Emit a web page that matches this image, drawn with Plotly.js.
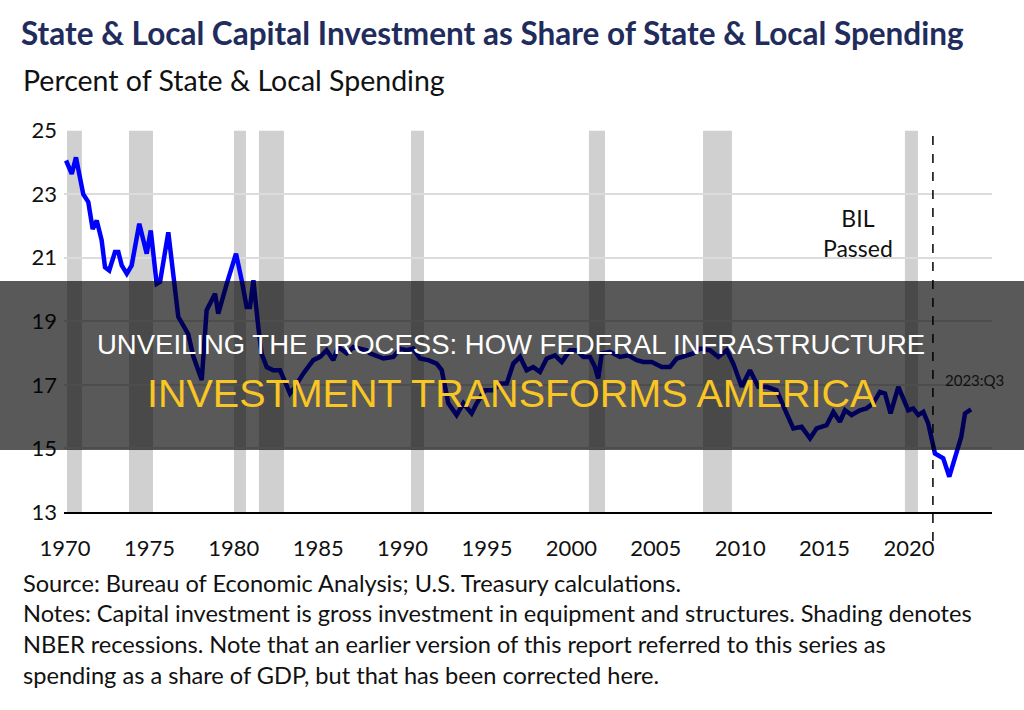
<!DOCTYPE html>
<html>
<head>
<meta charset="utf-8">
<script src="https://cdn.plot.ly/plotly-3.0.1.min.js"></script>
<style>
  html, body { margin: 0; padding: 0; background: #fff; }
  #chart { width: 1024px; height: 710px; }
</style>
</head>
<body>
<div id="chart"></div>
<script>
// ---- Data ----
const years = [1970.06,1970.40,1970.65,1971.08,1971.38,1971.64,1971.88,1972.17,1972.37,1972.62,1972.96,1973.16,1973.36,1973.66,1973.95,1974.40,1974.84,1975.08,1975.43,1975.63,1976.12,1976.42,1976.71,1977.30,1977.60,1978.10,1978.39,1978.89,1979.08,1979.58,1980.13,1980.47,1980.76,1980.96,1981.16,1981.45,1981.65,1981.95,1982.34,1982.74,1982.93,1983.33,1983.63,1984.12,1984.71,1985.11,1985.50,1985.89,1986.19,1986.69,1987.08,1987.87,
  1988.07,1988.86,1989.45,1989.85,1990.24,1990.63,1991.03,1991.52,1992.02,1992.32,1992.71,1993.20,1993.60,1994.09,1994.39,1994.88,1995.37,1995.77,1996.17,1996.56,1996.96,1997.35,1997.74,1998.14,1998.54,1999.03,1999.43,1999.92,2000.31,2000.71,2001.10,2001.40,2001.59,2001.80,2002.29,2002.88,2003.37,2003.87,2004.26,2004.76,2005.35,2005.84,2006.24,2006.63,
  2007.22,2007.62,2008.21,2008.70,2009.20,2009.59,2010.09,2010.58,2011.07,2011.57,2012.16,2012.75,2013.15,2013.64,2014.14,2014.53,2015.12,2015.52,2015.91,2016.21,2016.60,2017.09,2017.49,2017.88,2018.28,2018.58,2018.91,2019.37,2019.76,2019.96,2020.25,2020.55,2020.85,2021.14,2021.54,2022.03,2022.39,2022.82,2023.10,2023.32,2023.68];

const share = [24.06,23.64,24.16,23.0,22.75,21.9,22.17,21.55,20.7,20.6,21.18,21.18,20.76,20.5,20.76,22.07,21.13,21.86,20.18,20.24,21.8,20.5,19.14,18.6,17.9,17.15,19.35,19.87,19.24,20.18,21.13,20.29,19.45,19.45,20.29,18.82,17.98,17.56,17.46,17.46,17.25,16.73,16.94,17.36,17.78,17.88,18.09,17.78,18.19,17.99,18.19,18.09,
  17.99,17.83,17.88,18.14,18.09,18.14,17.83,17.78,17.67,17.46,16.42,16.05,16.42,16.1,16.42,16.83,16.83,17.04,17.04,17.67,17.88,17.46,17.56,17.41,17.83,17.93,17.72,18.09,18.09,17.88,17.88,17.56,17.2,17.99,18.04,17.88,17.93,17.78,17.72,17.72,17.56,17.56,17.83,17.88,
  17.99,18.14,18.09,17.88,18.09,17.67,16.94,17.46,16.94,16.94,16.83,16.10,15.63,15.68,15.32,15.63,15.73,16.15,15.84,16.20,16.05,16.20,16.26,16.42,16.78,16.73,16.10,16.94,16.47,16.20,16.26,16.05,16.15,15.79,14.84,14.69,14.11,14.84,15.37,16.10,16.23];

// NBER recession shading (start, end) as drawn
const recStart = [1970.12, 1973.79, 1980.01, 1981.49, 1990.50, 2001.04, 2007.80, 2019.76];
const recEnd   = [1971.00, 1975.21, 1980.72, 1982.97, 1991.27, 2001.99, 2009.51, 2020.53];

const bilDate = 2021.42;
const xTicks = [1970, 1975, 1980, 1985, 1990, 1995, 2000, 2005, 2010, 2015, 2020];
const yTicks = [13, 15, 17, 19, 21, 23, 25];

const titleText = "State & Local Capital Investment as Share of State & Local Spending";
const subtitleText = "Percent of State & Local Spending";
const noteLines = [
  "Source: Bureau of Economic Analysis; U.S. Treasury calculations.",
  "Notes: Capital investment is gross investment in equipment and structures. Shading denotes",
  "NBER recessions. Note that an earlier version of this report referred to this series as",
  "spending as a share of GDP, but that has been corrected here."
];
const bannerLine1 = "UNVEILING THE PROCESS: HOW FEDERAL INFRASTRUCTURE";
const bannerLine2 = "INVESTMENT TRANSFORMS AMERICA";

// ---- Layout helpers ----
const W = 1024, H = 710;
const M = {l: 64, r: 32, t: 130, b: 198};
const plotW = W - M.l - M.r, plotH = H - M.t - M.b;
const px2paperX = px => (px - M.l) / plotW;
const py2paperY = py => (H - M.b - py) / plotH;

const FONT = "Lato, 'Open Sans', sans-serif";
const BANNER_FONT = "'Liberation Sans', Arial, sans-serif";

const shapes = [];
for (let i = 0; i < recStart.length; i++) {
  shapes.push({
    type: 'rect', xref: 'x', yref: 'y', layer: 'below',
    x0: recStart[i], x1: recEnd[i], y0: yTicks[0], y1: yTicks[yTicks.length - 1],
    fillcolor: '#d0d0d0', line: {width: 0}
  });
}
shapes.push({
  type: 'line', xref: 'x', yref: 'paper', layer: 'above',
  x0: bilDate, x1: bilDate, y0: py2paperY(136), y1: py2paperY(543),
  line: {color: '#000', width: 1.5, dash: 'dash'}
});
// dark banner overlay
shapes.push({
  type: 'rect', xref: 'paper', yref: 'paper', layer: 'above',
  x0: px2paperX(0), x1: px2paperX(W), y0: py2paperY(450), y1: py2paperY(281),
  fillcolor: 'rgba(0,0,0,0.65)', line: {width: 0}
});

const noteY = [583, 613, 644, 675];
const annotations = [
  {xref: 'paper', yref: 'paper', x: px2paperX(21), y: py2paperY(80), xanchor: 'left', yanchor: 'middle',
   text: subtitleText, showarrow: false, font: {family: FONT, size: 28.5, color: '#111'}},
  {xref: 'x', yref: 'y', x: 2016.98, y: 21.77, text: 'BIL<br>Passed', showarrow: false,
   font: {family: FONT, size: 23, color: '#111'}, align: 'center'},
  {xref: 'x', yref: 'y', x: 2023.9, y: 17.15, text: '2023:Q3', showarrow: false,
   font: {family: FONT, size: 15, color: '#111'}},
  {xref: 'paper', yref: 'paper', x: px2paperX(511), y: py2paperY(344), xanchor: 'center', yanchor: 'middle',
   text: bannerLine1, showarrow: false, font: {family: BANNER_FONT, size: 27.5, color: '#ffffff'}},
  {xref: 'paper', yref: 'paper', x: px2paperX(512), y: py2paperY(393), xanchor: 'center', yanchor: 'middle',
   text: bannerLine2, showarrow: false, font: {family: BANNER_FONT, size: 39.5, color: '#F9C623'}}
];
noteLines.forEach((t, i) => {
  annotations.push({xref: 'paper', yref: 'paper', x: px2paperX(21), y: py2paperY(noteY[i]),
    xanchor: 'left', yanchor: 'middle', text: t, showarrow: false,
    font: {family: FONT, size: 23.6, color: '#111'}});
});

const data = [{
  x: years, y: share, type: 'scatter', mode: 'lines',
  line: {color: '#0000ff', width: 4.5},
  hoverinfo: 'skip'
}];

const layout = {
  width: W, height: H,
  margin: M,
  paper_bgcolor: '#fff', plot_bgcolor: '#fff',
  showlegend: false,
  title: {text: titleText, xref: 'container', yref: 'container', x: 21 / W, xanchor: 'left',
          y: 1 - 34 / H, yanchor: 'middle',
          font: {family: FONT, size: 31.5, color: '#1F2C5C', weight: 'bold'}},
  xaxis: {
    range: [1969.94, 2024.92], tickvals: xTicks, ticktext: xTicks.map(String),
    showgrid: false, zeroline: false, showline: true, linecolor: '#000', linewidth: 1.5,
    ticks: '', ticklabelstandoff: 16,
    tickfont: {family: FONT, size: 22, color: '#111'}
  },
  yaxis: {
    range: [13, 25.02], tickvals: yTicks, ticktext: yTicks.map(String),
    showgrid: true, gridcolor: '#dcdcdc', gridwidth: 2, zeroline: false, showline: false,
    ticks: '', ticklabelstandoff: 6,
    tickfont: {family: FONT, size: 22, color: '#111'}
  },
  shapes: shapes,
  annotations: annotations
};

Plotly.newPlot('chart', data, layout, {staticPlot: true, displayModeBar: false});
</script>
</body>
</html>
